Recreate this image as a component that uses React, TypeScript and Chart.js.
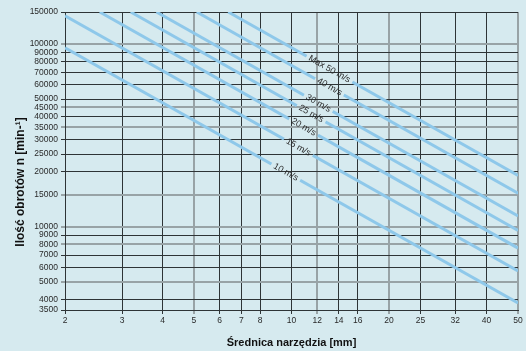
import React, { useEffect, useRef } from "react";
import { Chart, registerables } from "chart.js";

Chart.register(...registerables);

// Cutting-speed lines (n = rotational speed)
const speedLabels = ["10 m/s", "15 m/s", "20 m/s", "25 m/s", "30 m/s", "40 m/s", "Max 50 m/s"];
const startDiameter = [2, 2, 2.56, 3.19, 3.83, 5.1, 6.38];
const startSpeed = [95500, 143000, 150000, 150000, 150000, 150000, 150000];
const endDiameter = [50, 50, 50, 50, 50, 50, 50];
const endSpeed = [3820, 5730, 7640, 9550, 11460, 15280, 19100];
const labelDiameter = [9.6, 10.5, 10.9, 11.5, 12.1, 13.1, 13.1];

const xTicks = [2, 3, 4, 5, 6, 7, 8, 10, 12, 14, 16, 20, 25, 32, 40, 50];
const yTicks = [
  3500, 4000, 5000, 6000, 7000, 8000, 9000, 10000, 15000, 20000, 25000, 30000, 35000,
  40000, 45000, 50000, 60000, 70000, 80000, 90000, 100000, 150000,
];
const xGrayTicks = [5, 12, 20, 50];
const yGrayTicks = [100000, 45000, 35000, 15000, 10000, 8000, 5000];

const xTitle = "Średnica narzędzia [mm]";
const yTitle = "Ilość obrotów n [min-¹]";

const BG = "#d6eaef";
const LINE = "#8ec8ea";
const DARK = "#2e3436";
const GRAY = "#98a3a6";
const TEXT = "#2a2a2a";
const FONT = "'Liberation Sans', Arial, sans-serif";
const LABEL_FONT = `9px ${FONT}`;

function labelGeom(chart: any, i: number) {
  const xs = chart.scales.x;
  const ys = chart.scales.y;
  const x0 = xs.getPixelForValue(startDiameter[i]);
  const y0 = ys.getPixelForValue(startSpeed[i]);
  const x1 = xs.getPixelForValue(endDiameter[i]);
  const y1 = ys.getPixelForValue(endSpeed[i]);
  const lx = xs.getPixelForValue(labelDiameter[i]);
  const t = (lx - x0) / (x1 - x0);
  const ly = y0 + t * (y1 - y0);
  const ang = Math.atan2(y1 - y0, x1 - x0);
  const ctx = chart.ctx;
  ctx.save();
  ctx.font = LABEL_FONT;
  const w = ctx.measureText(speedLabels[i]).width + 6;
  ctx.restore();
  return { cx: lx, cy: ly, ang, w, h: 10 };
}

const lineLabelPlugin = {
  id: "lineLabels",
  beforeDraw(chart: any) {
    const ctx = chart.ctx;
    ctx.save();
    ctx.fillStyle = BG;
    ctx.fillRect(0, 0, chart.width, chart.height);
    ctx.restore();
  },
  beforeDatasetDraw(chart: any, args: any) {
    const g = labelGeom(chart, args.index);
    const ctx = chart.ctx;
    ctx.save();
    ctx.beginPath();
    ctx.rect(0, 0, chart.width, chart.height);
    const c = Math.cos(g.ang);
    const s = Math.sin(g.ang);
    const pts = [
      [-g.w / 2, -g.h / 2],
      [g.w / 2, -g.h / 2],
      [g.w / 2, g.h / 2],
      [-g.w / 2, g.h / 2],
    ].map(([px, py]) => [g.cx + px * c - py * s, g.cy + px * s + py * c]);
    ctx.moveTo(pts[0][0], pts[0][1]);
    for (let k = 1; k < pts.length; k++) ctx.lineTo(pts[k][0], pts[k][1]);
    ctx.closePath();
    ctx.clip("evenodd");
  },
  afterDatasetDraw(chart: any) {
    chart.ctx.restore();
  },
  afterDatasetsDraw(chart: any) {
    const ctx = chart.ctx;
    for (let i = 0; i < speedLabels.length; i++) {
      const g = labelGeom(chart, i);
      ctx.save();
      ctx.translate(g.cx, g.cy);
      ctx.rotate(g.ang);
      ctx.font = LABEL_FONT;
      ctx.fillStyle = TEXT;
      ctx.textAlign = "center";
      ctx.textBaseline = "middle";
      ctx.fillText(speedLabels[i], 0, 0);
      ctx.restore();
    }
  },
  afterDraw(chart: any) {
    const ctx = chart.ctx;
    const area = chart.chartArea;
    ctx.save();
    ctx.fillStyle = "#111111";
    ctx.textAlign = "center";
    ctx.textBaseline = "middle";
    ctx.font = `bold 11px ${FONT}`;
    ctx.fillText(xTitle, (area.left + area.right) / 2, 343);
    ctx.translate(21, 182);
    ctx.rotate(-Math.PI / 2);
    ctx.font = `bold 12px ${FONT}`;
    ctx.fillText(yTitle, 0, 0);
    ctx.restore();
  },
};

export default function App() {
  const ref = useRef<HTMLCanvasElement | null>(null);

  useEffect(() => {
    if (!ref.current) return;
    const datasets = speedLabels.map((label, i) => ({
      label,
      data: [
        { x: startDiameter[i], y: startSpeed[i] },
        { x: endDiameter[i], y: endSpeed[i] },
      ],
      borderColor: LINE,
      borderWidth: 3,
      pointRadius: 0,
      fill: false,
      tension: 0,
    }));
    const chart = new Chart(ref.current, {
      type: "line",
      data: { datasets },
      plugins: [lineLabelPlugin],
      options: {
        animation: false,
        responsive: false,
        devicePixelRatio: 1,
        layout: { padding: { top: 12, right: 8, left: 0, bottom: 0 } },
        plugins: { legend: { display: false }, tooltip: { enabled: false } },
        scales: {
          x: {
            type: "logarithmic",
            min: 2,
            max: 50,
            afterBuildTicks: (s: any) => {
              s.ticks = xTicks.map((v) => ({ value: v }));
            },
            afterFit: (s: any) => {
              s.height = 41;
            },
            ticks: {
              autoSkip: false,
              maxRotation: 0,
              padding: 2,
              color: TEXT,
              font: { family: FONT, size: 8.5 },
              callback: (v: any) => String(v),
            },
            grid: {
              color: (c: any) => (c.tick && xGrayTicks.includes(c.tick.value) ? GRAY : DARK),
              lineWidth: (c: any) => (c.tick && xGrayTicks.includes(c.tick.value) ? 2 : 1),
              tickLength: 4,
            },
            border: { display: true, color: DARK, width: 1 },
          },
          y: {
            type: "logarithmic",
            min: 3500,
            max: 150000,
            afterBuildTicks: (s: any) => {
              s.ticks = yTicks.map((v) => ({ value: v }));
            },
            afterFit: (s: any) => {
              s.width = 65;
            },
            ticks: {
              autoSkip: false,
              padding: 3,
              color: TEXT,
              font: { family: FONT, size: 8.5 },
              callback: (v: any) => String(v),
            },
            grid: {
              color: (c: any) => (c.tick && yGrayTicks.includes(c.tick.value) ? GRAY : DARK),
              lineWidth: (c: any) => (c.tick && yGrayTicks.includes(c.tick.value) ? 2 : 1),
              tickLength: 4,
            },
            border: { display: true, color: DARK, width: 1 },
          },
        },
      },
    } as any);
    return () => chart.destroy();
  }, []);

  return (
    <div
      style={{
        position: "fixed",
        left: 0,
        top: 0,
        width: 526,
        height: 351,
        background: BG,
      }}
    >
      <canvas ref={ref} width={526} height={351} style={{ display: "block" }} />
    </div>
  );
}
